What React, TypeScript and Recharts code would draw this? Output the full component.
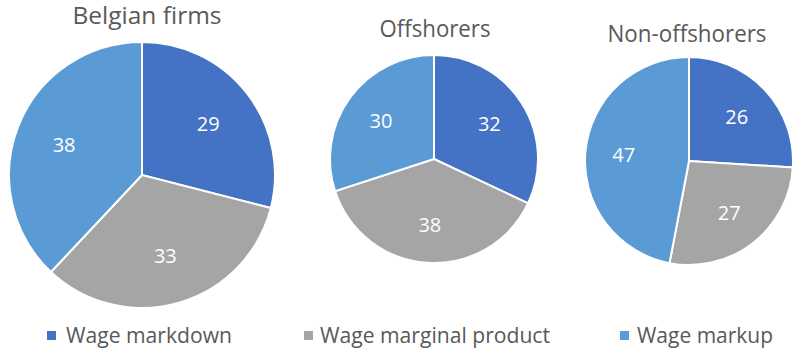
import { PieChart, Pie, Cell } from "recharts";

const categories = ["Wage markdown", "Wage marginal product", "Wage markup"];
const colors = ["#4472C4", "#A5A5A5", "#5B9BD5"];

const groups = ["Belgian firms", "Offshorers", "Non-offshorers"];
const belgian = [29, 33, 38];
const offshorers = [32, 38, 30];
const nonOffshorers = [26, 27, 47];

const series = [belgian, offshorers, nonOffshorers];

// layout of each pie + its title (px)
const pies = [
  { cx: 142, cy: 175, r: 133, tx: 147, ty: 24, tw: 149 },
  { cx: 434, cy: 159, r: 104, tx: 435, ty: 37, tw: 111 },
  { cx: 689, cy: 161, r: 104, tx: 687, ty: 42, tw: 159 },
];

// legend entries: square x, text start x, text width
const legendPos = [
  { sx: 47, tx: 66, tw: 166 },
  { sx: 304, tx: 320, tw: 230 },
  { sx: 620, tx: 637, tw: 136 },
];

const FONT = "'Open Sans', 'Noto Sans', sans-serif";
const RAD = Math.PI / 180;

const renderLabel = (p: any) => {
  const r = p.outerRadius * 0.63;
  const x = p.cx + r * Math.cos(-p.midAngle * RAD);
  const y = p.cy + r * Math.sin(-p.midAngle * RAD);
  return (
    <text x={x} y={y} fill="#fff" fontSize={20} fontFamily={FONT} textAnchor="middle" dominantBaseline="central">
      {p.value}
    </text>
  );
};

export default function App() {
  return (
    <div style={{ position: "absolute", left: 0, top: 0, width: 800, height: 355, background: "#fff" }}>
      <PieChart width={800} height={355} margin={{ top: 0, right: 0, bottom: 0, left: 0 }}>
        {series.map((vals, i) => {
          const data = vals.map((v, j) => ({ name: categories[j], value: v }));
          return (
            <Pie
              key={groups[i]}
              data={data}
              dataKey="value"
              cx={pies[i].cx}
              cy={pies[i].cy}
              outerRadius={pies[i].r}
              startAngle={90}
              endAngle={-270}
              stroke="#fff"
              strokeWidth={2}
              label={renderLabel}
              labelLine={false}
              isAnimationActive={false}
            >
              {data.map((d, j) => (
                <Cell key={d.name} fill={colors[j]} />
              ))}
            </Pie>
          );
        })}
      </PieChart>
      <svg width={800} height={355} style={{ position: "absolute", left: 0, top: 0, pointerEvents: "none" }}>
        {groups.map((g, i) => (
          <text
            key={g}
            x={pies[i].tx - pies[i].tw / 2}
            y={pies[i].ty}
            fontSize={23}
            fontFamily={FONT}
            fill="#595959"
            textLength={pies[i].tw}
            lengthAdjust="spacingAndGlyphs"
          >
            {g}
          </text>
        ))}
        {categories.map((c, i) => (
          <g key={c}>
            <rect x={legendPos[i].sx} y={331} width={9} height={9} fill={colors[i]} />
            <text
              x={legendPos[i].tx}
              y={343}
              fontSize={21}
              fontFamily={FONT}
              fill="#595959"
              textLength={legendPos[i].tw}
              lengthAdjust="spacingAndGlyphs"
            >
              {c}
            </text>
          </g>
        ))}
      </svg>
    </div>
  );
}
